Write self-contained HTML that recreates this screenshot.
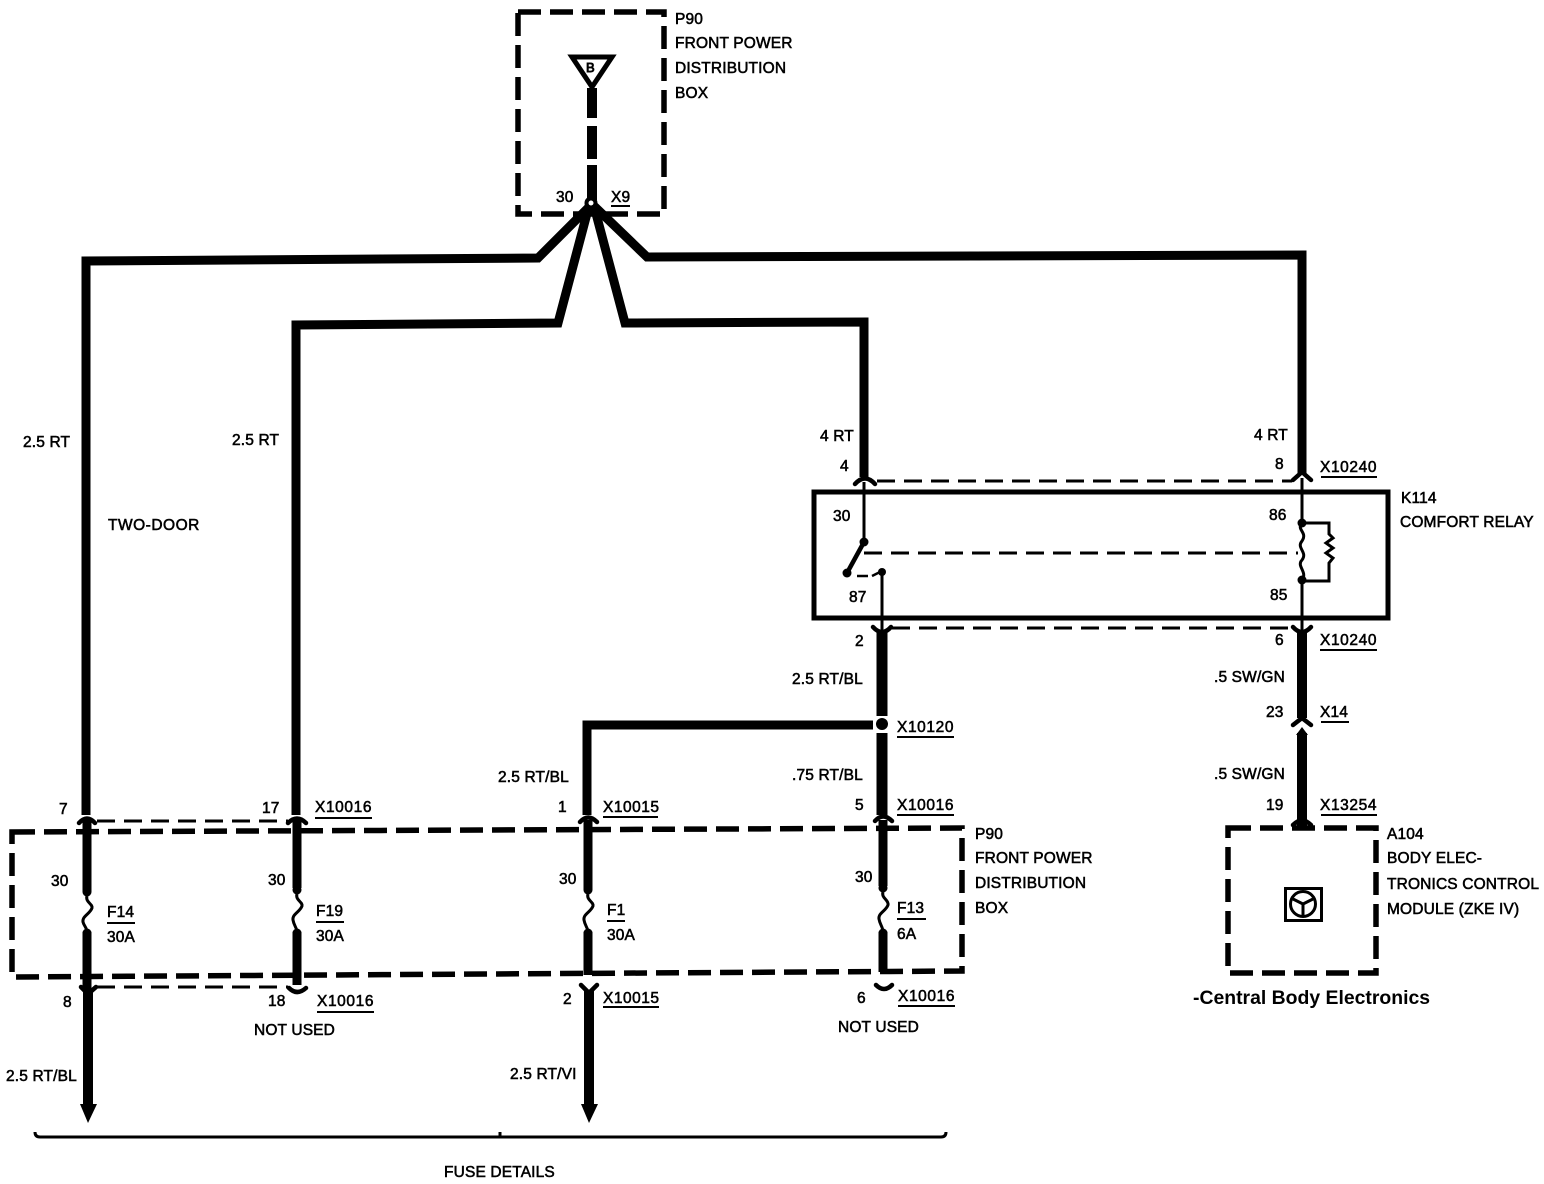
<!DOCTYPE html>
<html><head><meta charset="utf-8"><style>
html,body{margin:0;padding:0;background:#fff}
svg{display:block}
text{font-family:"Liberation Sans",Arial,sans-serif;font-size:15.5px;letter-spacing:.15px;fill:#000;stroke:#000;stroke-width:.55}
.w{fill:none;stroke:#000;stroke-linejoin:miter}
.d{fill:none;stroke:#000;stroke-width:5.5;stroke-dasharray:23 9}
.t{fill:none;stroke:#000;stroke-width:3}
.c{fill:none;stroke:#000;stroke-width:4.5;stroke-linejoin:round;stroke-linecap:round}
.h{fill:none;stroke:#000;stroke-width:3;stroke-dasharray:18 9}
.u{stroke:#000;stroke-width:2}
</style></head><body>
<svg width="1544" height="1184" viewBox="0 0 1544 1184" xmlns="http://www.w3.org/2000/svg">
<!-- top box -->
<path class="d" d="M518 12H664V214H518Z"/>
<path d="M572 57H612L592 87Z" fill="#fff" stroke="#000" stroke-width="5"/>
<text x="586" y="72" style="font-size:13px;stroke-width:.9">B</text>
<path class="w" stroke-width="10" d="M592 88V118M592 126V159M592 165V200"/>
<!-- main wires -->
<path class="w" stroke-width="9" d="M590 206L538 258L86 261V815"/>
<path class="w" stroke-width="9" d="M589 206L558 323L296 325V815"/>
<path class="w" stroke-width="9" d="M594 206L625 323L864 322V477"/>
<path class="w" stroke-width="9" d="M594 206L647 257L1302 255V473"/>
<circle cx="591" cy="203" r="6.500" fill="#000"/><circle cx="591" cy="203" r="2.5" fill="#fff"/>
<!-- relay -->
<rect x="814" y="492" width="574" height="126" fill="none" stroke="#000" stroke-width="5"/>
<path class="c" d="M855 484Q865 473 875 484"/><path class="c" d="M1293 480L1302 472L1311 480"/>
<path class="h" d="M877 481H1292"/>
<path class="t" d="M864 482V542M882 572V630M1302 478V523M1302 580V630"/>
<circle cx="864" cy="542" r="4.500"/><circle cx="847" cy="573" r="4.500"/><circle cx="882" cy="572" r="4"/>
<path d="M864 542L847 573" stroke="#000" stroke-width="4.500"/>
<path d="M857 576H868M872 576L882 571" stroke="#000" stroke-width="2.500"/>
<path class="h" d="M864 553H1298"/>
<circle cx="1302" cy="523" r="4.500"/><circle cx="1302" cy="580" r="4.500"/>
<path class="t" d="M1302 523C1296 530 1308 532 1302 541C1296 548 1308 552 1302 560C1296 566 1308 572 1302 580"/>
<path class="t" d="M1302 523H1329V534L1333 538L1326 543L1333 548L1326 553L1333 558L1329 563V581H1302"/>
<path class="c" d="M873 627Q882 637 891 627"/><path class="c" d="M1293 627Q1302 637 1311 627"/>
<path class="h" d="M892 628H1292"/>
<path class="w" stroke-width="11" d="M882 632V716M882 733V815"/>
<circle cx="882" cy="724" r="6"/>
<path class="w" stroke-width="9" d="M873 725H587V815"/>
<path class="w" stroke-width="10" d="M1302 632V718M1302 733V815"/>
<path class="c" d="M1293 725L1302 718L1311 725"/><path d="M1296 735L1302 727L1308 735Z"/>
<!-- lower box -->
<path class="d" d="M12 832L962 828V971L12 977Z"/>
<!-- chevrons -->
<path class="c" d="M79 823Q87 814 95 823M288 823Q297 814 306 823M580 822Q588 813 597 822M875 821Q883 812 892 821M1293 825Q1302 816 1311 825"/>
<path class="h" d="M97 821H288M97 987H288"/>
<path class="c" d="M81 987L88 994L96 987M581 985L589 993L597 985"/>
<path class="c" d="M289 988Q297 996 306 988M876 985Q884 993 892 985"/>
<!-- fuses -->
<path class="w" stroke-width="9" d="M87 820V892M87 932V990M297 820V888M297 932V985M588 820V890M588 932V975M883 820V886M883 932V972"/>
<circle cx="87" cy="892" r="4.500"/><circle cx="87" cy="933" r="4.500"/><circle cx="297" cy="890" r="4.500"/><circle cx="297" cy="933" r="4.500"/><circle cx="588" cy="890" r="4.500"/><circle cx="588" cy="933" r="4.500"/><circle cx="883" cy="888" r="4.500"/><circle cx="883" cy="933" r="4.500"/>
<path class="t" d="M87 896C85 902 93 904 92 908C90 914 82 916 83 922C84 926 87 928 87 932"/>
<path class="t" d="M297 894C295 900 303 902 302 906C300 912 292 914 293 920C294 926 297 928 297 932"/>
<path class="t" d="M588 894C586 900 594 902 593 906C591 912 583 914 584 920C585 926 588 928 588 932"/>
<path class="t" d="M883 892C881 898 889 900 888 905C886 911 878 913 879 919C880 925 883 927 883 932"/>
<path class="w" stroke-width="10" d="M88 990V1106M589 990V1106M1302 815V829"/>
<path d="M80 1104H97L88 1123Z"/><path d="M581 1104H598L589 1123Z"/>
<!-- A104 -->
<path class="d" d="M1228 828H1376V973H1228Z"/>
<rect x="1285.500" y="888.500" width="36" height="32" fill="none" stroke="#000" stroke-width="3"/>
<circle cx="1303" cy="904" r="12.500" fill="none" stroke="#000" stroke-width="3"/>
<path d="M1303 904V916M1303 904L1293 899M1303 904L1313 899" stroke="#000" stroke-width="3"/>
<!-- bracket -->
<path d="M35 1132Q35 1137 40 1137H941Q946 1137 946 1132M500 1137V1132" fill="none" stroke="#000" stroke-width="3"/>
<!-- labels -->
<text x="675" y="24">P90</text><text x="675" y="48">FRONT POWER</text><text x="675" y="73">DISTRIBUTION</text><text x="675" y="98">BOX</text>
<text x="556" y="202">30</text><text x="611" y="202">X9</text><path class="u" d="M611 206H630"/>
<text x="23" y="447">2.5 RT</text><text x="232" y="445">2.5 RT</text><text x="108" y="530" style="letter-spacing:.5px">TWO-DOOR</text>
<text x="820" y="441">4 RT</text><text x="1254" y="440">4 RT</text>
<text x="840" y="471">4</text><text x="1275" y="469">8</text><text x="1320" y="472" style="letter-spacing:.6px">X10240</text><path class="u" d="M1321 477H1377"/>
<text x="1401" y="503">K114</text><text x="1400" y="527">COMFORT RELAY</text>
<text x="833" y="521">30</text><text x="849" y="602">87</text><text x="1269" y="520">86</text><text x="1270" y="600">85</text>
<text x="855" y="646">2</text><text x="1275" y="645">6</text><text x="1320" y="645" style="letter-spacing:.6px">X10240</text><path class="u" d="M1320 650H1377"/>
<text x="792" y="684">2.5 RT/BL</text><text x="1214" y="682">.5 SW/GN</text>
<text x="1266" y="717">23</text><text x="1320" y="717">X14</text><path class="u" d="M1321 722H1349"/>
<text x="897" y="732" style="letter-spacing:.6px">X10120</text><path class="u" d="M897 737H954"/>
<text x="498" y="782">2.5 RT/BL</text><text x="792" y="780">.75 RT/BL</text><text x="1214" y="779">.5 SW/GN</text>
<text x="59" y="814">7</text><text x="262" y="813">17</text><text x="315" y="812" style="letter-spacing:.6px">X10016</text><path class="u" d="M315 818H372"/>
<text x="558" y="812">1</text><text x="603" y="812" style="letter-spacing:.5px">X10015</text><path class="u" d="M603 817H658"/>
<text x="855" y="810">5</text><text x="897" y="810" style="letter-spacing:.6px">X10016</text><path class="u" d="M897 815H954"/>
<text x="1266" y="810">19</text><text x="1320" y="810" style="letter-spacing:.6px">X13254</text><path class="u" d="M1321 815H1377"/>
<text x="975" y="839">P90</text><text x="975" y="863">FRONT POWER</text><text x="975" y="888">DISTRIBUTION</text><text x="975" y="913">BOX</text>
<text x="1387" y="839">A104</text><text x="1387" y="863">BODY ELEC-</text><text x="1387" y="889">TRONICS CONTROL</text><text x="1387" y="914">MODULE (ZKE IV)</text>
<text x="51" y="886">30</text><text x="268" y="885">30</text><text x="559" y="884">30</text><text x="855" y="882">30</text>
<text x="107" y="917">F14</text><path class="u" d="M107 923H135"/><text x="107" y="942">30A</text>
<text x="316" y="916">F19</text><path class="u" d="M316 922H344"/><text x="316" y="941">30A</text>
<text x="607" y="915">F1</text><path class="u" d="M607 921H625"/><text x="607" y="940">30A</text>
<text x="897" y="913">F13</text><path class="u" d="M897 919H926"/><text x="897" y="939">6A</text>
<text x="63" y="1007">8</text><text x="268" y="1006">18</text><text x="317" y="1006" style="letter-spacing:.6px">X10016</text><path class="u" d="M317 1012H374"/>
<text x="563" y="1004">2</text><text x="603" y="1003" style="letter-spacing:.5px">X10015</text><path class="u" d="M603 1007H659"/>
<text x="857" y="1003">6</text><text x="898" y="1001" style="letter-spacing:.6px">X10016</text><path class="u" d="M898 1006H955"/>
<text x="254" y="1035">NOT USED</text><text x="838" y="1032">NOT USED</text>
<text x="6" y="1081">2.5 RT/BL</text><text x="510" y="1079">2.5 RT/VI</text>
<text x="444" y="1177">FUSE DETAILS</text>
<text x="1193" y="1004" style="font-size:19.400px;font-weight:bold;stroke-width:0;letter-spacing:0">-Central Body Electronics</text>
</svg>
</body></html>
